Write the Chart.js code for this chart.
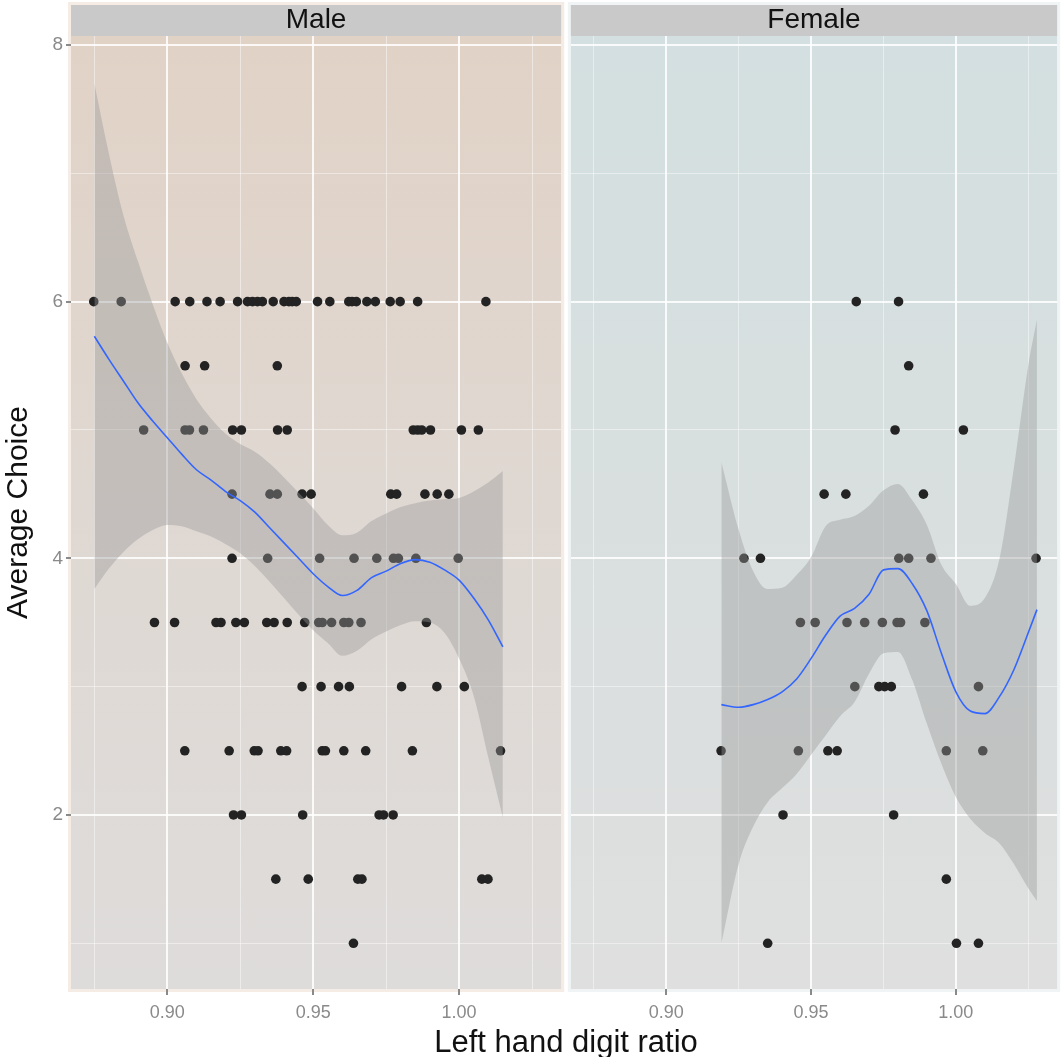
<!DOCTYPE html>
<html>
<head>
<meta charset="utf-8">
<script src="https://cdn.jsdelivr.net/npm/chart.js@4.4.1/dist/chart.umd.min.js"></script>
<style>
  body { margin: 0; background: #fff; width: 1062px; height: 1057px; position: relative; overflow: hidden; font-family: "Liberation Sans", Arial, sans-serif; }
  canvas { position: absolute; top: 0; }
  #maleChart { left: 0; }
  #femaleChart { left: 566px; }
  #xTitle { position: absolute; top: 1024px; left: 566px; transform: translateX(-50%); font-size: 31px; line-height: 36px; color: #111; white-space: nowrap; }
</style>
</head>
<body>
<canvas id="maleChart" width="566" height="1057"></canvas>
<canvas id="femaleChart" width="496" height="1057"></canvas>
<div id="xTitle">Left hand digit ratio</div>
<script>
// ---------- data ----------
const choiceLevels = [6, 5.5, 5, 4.5, 4, 3.5, 3, 2.5, 2, 1.5, 1];

// male digit ratios, one list per choice level above
const maleRatios = [
  [0.8748, 0.8842, 0.9027, 0.9077, 0.9136, 0.9181, 0.9241, 0.9275, 0.9292, 0.9309, 0.9326, 0.9363, 0.9400, 0.9417, 0.9428, 0.9442, 0.9515, 0.9557, 0.9622, 0.9633, 0.9648, 0.9684, 0.9713, 0.9764, 0.9798, 0.9858, 1.0092],
  [0.9061, 0.9128, 0.9377],
  [0.8919, 0.9061, 0.9076, 0.9124, 0.9224, 0.9254, 0.9378, 0.9411, 0.9843, 0.9858, 0.9872, 0.9902, 1.0008, 1.0066],
  [0.9222, 0.9352, 0.9377, 0.9462, 0.9493, 0.9766, 0.9786, 0.9883, 0.9925, 0.9965],
  [0.9222, 0.9344, 0.9522, 0.9640, 0.9718, 0.9775, 0.9792, 0.9852, 0.9997],
  [0.8956, 0.9025, 0.9167, 0.9184, 0.9235, 0.9264, 0.9341, 0.9366, 0.9411, 0.9471, 0.9519, 0.9531, 0.9563, 0.9605, 0.9622, 0.9664, 0.9888],
  [0.9462, 0.9527, 0.9587, 0.9624, 0.9803, 0.9924, 1.0018],
  [0.9060, 0.9212, 0.9298, 0.9311, 0.9389, 0.9409, 0.9531, 0.9542, 0.9605, 0.9680, 0.9840, 1.0142],
  [0.9227, 0.9254, 0.9464, 0.9726, 0.9741, 0.9774],
  [0.9372, 0.9483, 0.9653, 0.9667, 1.0078, 1.0099],
  [0.9638]
];

const femaleRatios = [
  [0.9656, 0.9802],
  [0.9837],
  [0.9790, 1.0026],
  [0.9545, 0.9620, 0.9888],
  [0.9268, 0.9325, 0.9803, 0.9837, 0.9914, 1.0277],
  [0.9463, 0.9514, 0.9624, 0.9685, 0.9746, 0.9797, 0.9809, 0.9893],
  [0.9651, 0.9734, 0.9754, 0.9777, 1.0078],
  [0.9189, 0.9456, 0.9558, 0.9590, 0.9967, 1.0093],
  [0.9403, 0.9785],
  [0.9967],
  [0.9350, 1.0002, 1.0078]
];

// loess fit with confidence band
const maleFitX = [0.875, 0.880, 0.885, 0.890, 0.895, 0.900, 0.905, 0.910, 0.915, 0.920, 0.925, 0.930, 0.935, 0.940, 0.945, 0.950, 0.955, 0.960, 0.965, 0.970, 0.975, 0.980, 0.985, 0.990, 0.995, 1.000, 1.005, 1.010, 1.015];
const maleFit   = [5.73, 5.55, 5.38, 5.21, 5.07, 4.94, 4.81, 4.69, 4.61, 4.52, 4.45, 4.36, 4.24, 4.12, 4.00, 3.88, 3.78, 3.71, 3.75, 3.85, 3.90, 3.96, 3.99, 3.97, 3.91, 3.83, 3.69, 3.52, 3.31];
const maleUpper = [7.70, 7.15, 6.67, 6.31, 5.98, 5.68, 5.44, 5.24, 5.09, 4.97, 4.89, 4.83, 4.74, 4.63, 4.51, 4.39, 4.26, 4.18, 4.20, 4.29, 4.35, 4.40, 4.43, 4.45, 4.46, 4.47, 4.52, 4.59, 4.68];
const maleLower = [3.76, 3.92, 4.05, 4.15, 4.22, 4.26, 4.25, 4.21, 4.17, 4.11, 4.04, 3.94, 3.82, 3.69, 3.56, 3.44, 3.34, 3.24, 3.28, 3.37, 3.43, 3.48, 3.51, 3.50, 3.42, 3.22, 2.93, 2.45, 1.98];

const femaleFitX = [0.919, 0.925, 0.930, 0.935, 0.940, 0.945, 0.950, 0.955, 0.960, 0.965, 0.970, 0.975, 0.980, 0.985, 0.990, 0.995, 1.000, 1.005, 1.010, 1.015, 1.020, 1.025, 1.028];
const femaleFit   = [2.86, 2.84, 2.86, 2.90, 2.96, 3.06, 3.22, 3.40, 3.55, 3.61, 3.72, 3.91, 3.92, 3.80, 3.59, 3.26, 2.96, 2.81, 2.79, 2.92, 3.13, 3.42, 3.60];
const femaleUpper = [4.75, 4.22, 3.90, 3.76, 3.77, 3.87, 4.01, 4.25, 4.30, 4.33, 4.41, 4.53, 4.58, 4.45, 4.26, 3.95, 3.80, 3.63, 3.69, 3.99, 4.70, 5.50, 5.86];
const femaleLower = [1.00, 1.62, 1.91, 2.10, 2.21, 2.32, 2.47, 2.62, 2.77, 2.88, 3.10, 3.26, 3.27, 3.05, 2.71, 2.40, 2.14, 1.97, 1.86, 1.78, 1.62, 1.43, 1.33];

const xTicks = [0.875, 0.90, 0.925, 0.95, 0.975, 1.00, 1.025];
const yTicks = [1, 2, 3, 4, 5, 6, 7, 8];

// ---------- helpers ----------
const toPoints = (xs, ys) => xs.map((x, i) => ({ x: x, y: ys[i] }));
const scatterPoints = (ratios) => {
  const pts = [];
  ratios.forEach((row, i) => row.forEach(x => pts.push({ x: x, y: choiceLevels[i] })));
  return pts;
};
const isMajorX = v => Math.abs(v * 20 - Math.round(v * 20)) < 1e-6;
const isMajorY = v => Math.abs(v / 2 - Math.round(v / 2)) < 1e-6;
const FONT = '"Liberation Sans", Arial, sans-serif';

// strip header and tinted panel background
const panelBg = {
  id: 'panelBg',
  beforeDraw(chart, args, opts) {
    const { ctx, chartArea: a } = chart;
    const t = chart.titleBlock;
    ctx.save();
    ctx.strokeStyle = opts.frame;
    ctx.lineWidth = 3;
    ctx.strokeRect(a.left - 1.5, t.top - 1.5, a.right - a.left + 3, a.bottom - t.top + 3);
    ctx.fillStyle = '#c9c9c9';
    ctx.fillRect(a.left, t.top, a.right - a.left, t.height);
    const g = ctx.createLinearGradient(0, a.top, 0, a.bottom);
    g.addColorStop(0, opts.top);
    g.addColorStop(0.5, opts.mid);
    g.addColorStop(1, opts.bottom);
    ctx.fillStyle = g;
    ctx.fillRect(a.left, a.top, a.right - a.left, a.bottom - a.top);
    ctx.restore();
  }
};

const makePanel = (canvasId, title, ratios, fitX, fit, upper, lower, bg, showY, padding) => {
  const ribbon = 'rgba(153,153,153,0.4)';
  return new Chart(document.getElementById(canvasId), {
    type: 'scatter',
    data: {
      datasets: [
        { type: 'line', data: toPoints(fitX, fit), borderColor: '#3366ff', borderWidth: 1.6, pointRadius: 0, fill: false, cubicInterpolationMode: 'monotone' },
        { type: 'line', data: toPoints(fitX, upper), borderWidth: 0, borderColor: 'rgba(0,0,0,0)', pointRadius: 0, fill: '+1', backgroundColor: ribbon, cubicInterpolationMode: 'monotone' },
        { type: 'line', data: toPoints(fitX, lower), borderWidth: 0, borderColor: 'rgba(0,0,0,0)', pointRadius: 0, fill: false, cubicInterpolationMode: 'monotone' },
        { data: scatterPoints(ratios), backgroundColor: '#232323', borderWidth: 0, pointRadius: 4.8 }
      ]
    },
    options: {
      responsive: false,
      animation: false,
      events: [],
      layout: { padding: padding },
      plugins: {
        legend: { display: false },
        tooltip: { enabled: false },
        title: {
          display: true, text: title, fullSize: false, color: '#111',
          font: { size: 28, weight: 'normal', family: FONT, lineHeight: 31 / 28 },
          padding: 0
        },
        panelBg: bg
      },
      scales: {
        x: {
          type: 'linear', min: 0.867, max: 1.035,
          afterBuildTicks: s => { s.ticks = xTicks.map(v => ({ value: v })); },
          afterFit: s => { s.height = 68; },
          border: { display: false },
          grid: {
            color: c => isMajorX(c.tick.value) ? 'rgba(255,255,255,0.85)' : 'rgba(255,255,255,0.45)',
            lineWidth: c => isMajorX(c.tick.value) ? 2 : 1,
            tickColor: c => isMajorX(c.tick.value) ? '#8a8a8a' : 'rgba(0,0,0,0)',
            tickLength: 6
          },
          ticks: {
            color: '#8a8a8a', padding: 7, maxRotation: 0, autoSkip: false,
            font: { size: 18, family: FONT },
            callback: v => isMajorX(v) ? v.toFixed(2) : ''
          }
        },
        y: {
          type: 'linear', min: 0.644, max: 8.07,
          afterBuildTicks: s => { s.ticks = yTicks.map(v => ({ value: v })); },
          afterFit: s => { s.width = showY ? 71 : 0; },
          border: { display: false },
          title: {
            display: showY, text: 'Average Choice', color: '#111',
            font: { size: 30, family: FONT },
            padding: { top: 1, bottom: 0 }
          },
          grid: {
            color: c => isMajorY(c.tick.value) ? 'rgba(255,255,255,0.85)' : 'rgba(255,255,255,0.45)',
            lineWidth: c => isMajorY(c.tick.value) ? 2 : 1,
            tickColor: c => isMajorY(c.tick.value) ? '#8a8a8a' : 'rgba(0,0,0,0)',
            drawTicks: showY,
            tickLength: 5
          },
          ticks: {
            display: showY, color: '#8a8a8a', padding: 3, autoSkip: false,
            font: { size: 19, family: FONT },
            callback: v => isMajorY(v) ? String(v) : ''
          }
        }
      }
    },
    plugins: [panelBg]
  });
};

makePanel('maleChart', 'Male', maleRatios, maleFitX, maleFit, maleUpper, maleLower,
  { top: '#e1d2c6', mid: '#dfd8d2', bottom: '#dedcdb', frame: '#f5ece5' }, true,
  { top: 5, right: 4, left: 0, bottom: 0 });

makePanel('femaleChart', 'Female', femaleRatios, femaleFitX, femaleFit, femaleUpper, femaleLower,
  { top: '#d3dfe0', mid: '#d9dfdf', bottom: '#dfdfdf', frame: '#f0f4f4' }, false,
  { top: 5, right: 2, left: 3, bottom: 0 });
</script>
</body>
</html>
